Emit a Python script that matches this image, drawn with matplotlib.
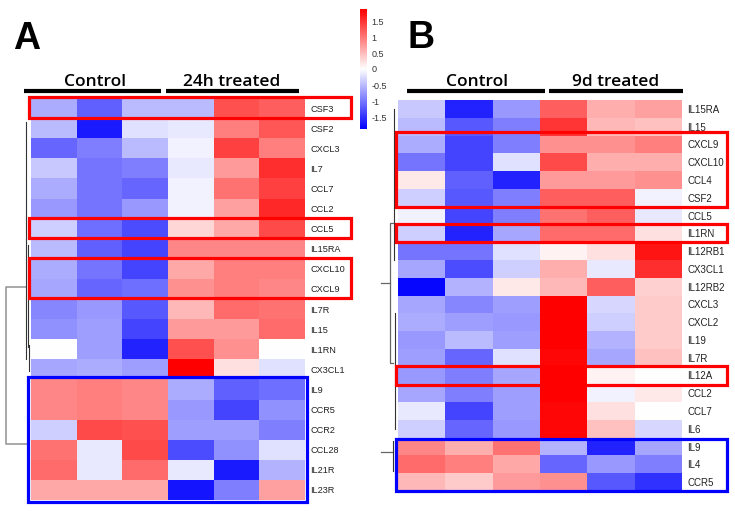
import matplotlib.pyplot as plt
import numpy as np
from matplotlib.colors import LinearSegmentedColormap, TwoSlopeNorm
from matplotlib.patches import Rectangle

plt.rcParams['font.family'] = ['Liberation Sans', 'DejaVu Sans']

# panel A: 24h
genes_a = ['CSF3', 'CSF2', 'CXCL3', 'IL7', 'CCL7', 'CCL2', 'CCL5', 'IL15RA',
           'CXCL10', 'CXCL9', 'IL7R', 'IL15', 'IL1RN', 'CX3CL1',
           'IL9', 'CCR5', 'CCR2', 'CCL28', 'IL21R', 'IL23R']
values_a = [
    [-0.60, -1.15, -0.50, -0.50, 1.30, 1.20],
    [-0.50, -1.65, -0.23, -0.17, 0.95, 1.25],
    [-1.10, -0.93, -0.50, -0.10, 1.42, 0.95],
    [-0.40, -1.00, -0.93, -0.17, 0.75, 1.55],
    [-0.60, -1.00, -1.10, -0.10, 1.05, 1.42],
    [-0.75, -1.00, -0.75, -0.10, 0.70, 1.60],
    [-0.35, -1.05, -1.30, 0.30, 0.65, 1.35],
    [-0.50, -1.15, -1.35, 0.90, 0.90, 0.90],
    [-0.60, -1.00, -1.35, 0.65, 0.95, 0.95],
    [-0.65, -1.10, -1.05, 0.82, 0.95, 0.90],
    [-0.88, -0.75, -1.20, 0.52, 1.10, 1.05],
    [-0.80, -0.70, -1.35, 0.75, 0.75, 1.10],
    [0.00, -0.70, -1.60, 1.30, 0.82, 0.00],
    [-0.65, -0.60, -0.70, 1.90, 0.23, -0.23],
    [0.90, 0.95, 0.90, -0.60, -1.15, -1.05],
    [0.90, 0.95, 0.90, -0.75, -1.35, -0.80],
    [-0.35, 1.35, 1.30, -0.70, -0.70, -0.93],
    [1.05, -0.17, 1.35, -1.30, -0.80, -0.23],
    [1.10, -0.17, 1.10, -0.17, -1.65, -0.55],
    [0.65, 0.65, 0.65, -1.70, -0.93, 0.70],
]

# panel B: 9d
genes_b = ['IL15RA', 'IL15', 'CXCL9', 'CXCL10', 'CCL4', 'CSF2', 'CCL5', 'IL1RN',
           'IL12RB1', 'CX3CL1', 'IL12RB2', 'CXCL3', 'CXCL2', 'IL19', 'IL7R',
           'IL12A', 'CCL2', 'CCL7', 'IL6', 'IL9', 'IL4', 'CCR5']
values_b = [
    [-0.40, -1.60, -0.75, 1.20, 0.60, 0.70],
    [-0.50, -1.20, -0.93, 1.50, 0.52, 0.47],
    [-0.60, -1.35, -0.93, 0.82, 0.82, 0.95],
    [-1.00, -1.35, -0.23, 1.35, 0.60, 0.60],
    [0.17, -1.15, -1.60, 0.75, 0.75, 0.82],
    [-0.35, -1.20, -0.93, 1.20, 1.20, -0.10],
    [-0.10, -1.35, -0.93, 1.05, 1.20, -0.17],
    [-0.35, -1.60, -0.65, 1.10, 1.10, 0.23],
    [-1.00, -1.00, -0.23, 0.10, 0.23, 1.75],
    [-0.65, -1.30, -0.35, 0.60, -0.17, 1.55],
    [-1.80, -0.55, 0.17, 0.52, 1.20, 0.35],
    [-0.65, -0.88, -0.70, 1.90, -0.30, 0.40],
    [-0.60, -0.70, -0.75, 1.90, -0.35, 0.40],
    [-0.75, -0.50, -0.70, 1.90, -0.55, 0.40],
    [-0.70, -1.10, -0.23, 1.85, -0.65, 0.47],
    [-0.75, -0.93, -0.65, 1.90, 0.10, 0.00],
    [-0.65, -0.93, -0.70, 1.90, -0.10, 0.17],
    [-0.17, -1.35, -0.70, 1.85, 0.23, 0.00],
    [-0.35, -1.10, -0.75, 1.85, 0.47, -0.30],
    [0.90, 0.60, 1.05, -0.55, -1.60, -0.65],
    [1.10, 0.95, 0.65, -1.10, -0.75, -0.93],
    [0.52, 0.40, 0.75, 0.82, -1.20, -1.50],
]

cbar_ticks = [-1.5, -1, -0.5, 0, 0.5, 1, 1.5]
cbar_labels = ['-1.5', '-1', '-0.5', '0', '0.5', '1', '1.5']

W, H = 735, 511
fig = plt.figure(figsize=(7.35, 5.11), dpi=100)


def px(x, y, w, h):
    return [x / W, 1 - (y + h) / H, w / W, h / H]


cmap = LinearSegmentedColormap.from_list('bwr_heat', ['#0000ff', '#ffffff', '#ff0000'])
norm = TwoSlopeNorm(vmin=-1.85, vcenter=0, vmax=1.9)


def heatmap(rect, genes, values, fs):
    ax = fig.add_axes(px(*rect))
    mesh = ax.pcolormesh(np.array(values), cmap=cmap, norm=norm)
    ax.set_xlim(0, 6)
    ax.set_ylim(len(genes), 0)
    ax.set_xticks([])
    ax.set_yticks(np.arange(len(genes)) + 0.5)
    ax.set_yticklabels(genes, fontsize=fs, color='#222222')
    ax.yaxis.tick_right()
    ax.tick_params(length=0, pad=4)
    for s in ax.spines.values():
        s.set_visible(False)
    return ax, mesh


def header(ax, groups, line_y, text_y):
    for name, x0, x1, xc in groups:
        ax.plot([x0, x1], [line_y, line_y], color='black', lw=3, clip_on=False,
                solid_capstyle='butt')
        ax.text(xc, text_y, name, ha='center', va='baseline', fontsize=12.5,
                family=['Open Sans', 'DejaVu Sans'], fontweight='semibold')


def boxes(ax, items):
    for r0, r1, x0, x1, col in items:
        ax.add_patch(Rectangle((x0, r0), x1 - x0, r1 - r0, fill=False,
                               edgecolor=col, lw=2.3, clip_on=False, zorder=5))


def tree(ax, segs, col, lw):
    for xs, ys in segs:
        ax.plot(xs, ys, color=col, lw=lw, clip_on=False)


# ---- A ----
ax_a, mesh = heatmap((31, 98, 274, 402), genes_a, values_a, 6.6)
header(ax_a, [('Control', -0.15, 2.85, 1.4), ('24h treated', 2.96, 5.87, 4.4)], -0.35, -0.62)
boxes(ax_a, [(-0.05, 1.0, -0.05, 7.0, 'red'),
             (5.95, 6.95, -0.05, 7.0, 'red'),
             (7.95, 9.95, -0.05, 7.0, 'red'),
             (13.9, 20.12, -0.07, 6.04, 'blue')])
tree(ax_a, [([-0.1, -0.55, -0.55, -0.07], [9.4, 9.4, 17.2, 17.2])], '#999999', 1.2)
tree(ax_a, [([-0.1, -0.1], [1.2, 13.0]),
            ([-0.07, -0.07], [7.3, 12.4]),
            ([-0.05, -0.05], [12.3, 13.6])], '#333333', 0.8)

# ---- B ----
ax_b, _ = heatmap((398, 100, 284, 391), genes_b, values_b, 7)
header(ax_b, [('Control', 0.19, 3.1, 1.67), ('9d treated', 3.2, 6.02, 4.6)], -0.5, -0.8)
boxes(ax_b, [(1.8, 6.0, -0.04, 6.95, 'red'),
             (6.95, 8.0, -0.04, 6.95, 'red'),
             (14.95, 16.05, -0.04, 6.95, 'red'),
             (19.05, 22.0, -0.04, 6.95, 'blue')])
tree(ax_b, [([-0.36, -0.17], [10.3, 10.3]),
            ([-0.1, -0.17, -0.17, -0.1], [6.9, 6.9, 14.8, 14.8]),
            ([-0.36, -0.1], [19.8, 19.8])], '#666666', 0.9)
tree(ax_b, [([-0.08, -0.08], [0.5, 9.0]),
            ([-0.06, -0.06], [12.0, 18.5]),
            ([-0.1, -0.1], [19.2, 20.9])], '#333333', 0.8)

# colorbar
cax = fig.add_axes(px(360, 9, 7, 120))
cb = fig.colorbar(mesh, cax=cax, ticks=cbar_ticks)
cb.ax.set_yticklabels(cbar_labels)
cb.ax.tick_params(length=0, pad=3, labelsize=6.5, labelcolor='#333333')
cb.outline.set_visible(False)

fig.text(13 / W, 1 - 49 / H, 'A', fontsize=27, fontweight='bold', va='baseline')
fig.text(407 / W, 1 - 48 / H, 'B', fontsize=27, fontweight='bold', va='baseline')

fig.savefig('out.png', dpi=100)
